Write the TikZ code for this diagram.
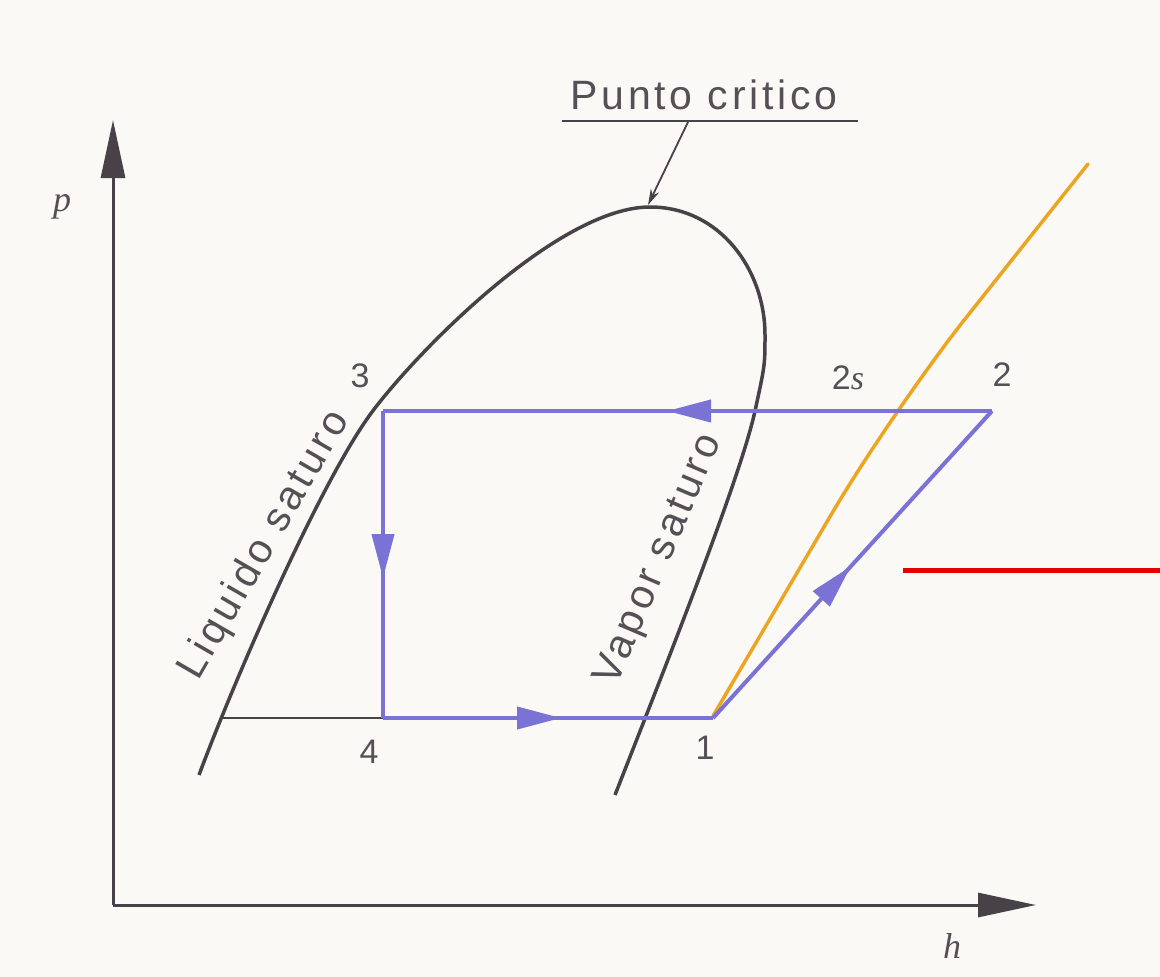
\documentclass[tikz,border=0pt]{standalone}
\usepackage{fontspec}
\setmainfont{Liberation Sans}
\newfontfamily\lblfont{Liberation Sans}[LetterSpace=9]
\newfontfamily\serifit{Liberation Serif}
\usetikzlibrary{arrows.meta,decorations.markings}
\definecolor{bgc}{RGB}{250,249,246}
\definecolor{ink}{RGB}{72,66,72}
\definecolor{txt}{RGB}{85,80,85}
\definecolor{cyc}{RGB}{122,114,212}
\definecolor{orng}{RGB}{236,165,35}
\definecolor{redl}{RGB}{232,0,0}
\tikzset{
  axis/.style={ink, line width=3pt, -{Triangle[length=58pt,width=24pt]}},
  dome/.style={ink, line width=3.5pt, line join=round},
  cycline/.style={cyc, line width=4pt},
  midarrow/.style={postaction={decorate, decoration={markings,
      mark=at position #1 with {\arrow{Triangle[length=44pt,width=22pt]}}}}},
  lbl/.style={txt, font=\lblfont\fontsize{41}{48}\selectfont, inner sep=0pt},
  num/.style={txt, font=\fontsize{34}{38}\selectfont, inner sep=0pt},
  axlbl/.style={txt, font=\serifit\itshape\fontsize{36}{40}\selectfont, inner sep=0pt}
}
\begin{document}
\begin{tikzpicture}[x=1pt,y=-1pt]
\fill[bgc] (0,0) rectangle (1160,977);
\useasboundingbox (0,0) rectangle (1160,977);
% axes
\coordinate (O) at (113,905);
\coordinate (ptop) at (113,120);
\coordinate (hend) at (1036,905);
\draw[axis] (O) -- (ptop);
\draw[axis] (O) -- (hend);
\node[axlbl] (plabel) at (62,207) {p};
\node[axlbl] (hlabel) at (952,946) {h};
% cycle points
\coordinate (c1) at (713,718);
\coordinate (c2) at (992,411);
\coordinate (c3) at (383,411);
\coordinate (c4) at (383,718);
\coordinate (lq) at (220,718);
% saturation dome
\coordinate (dL) at (199,775);
\coordinate (dA) at (372,412);
\coordinate (dC) at (650,207);
\coordinate (dR) at (765,335);
\coordinate (dB) at (755,411);
\coordinate (dE) at (615,795);
\draw[dome] (dL) .. controls (234,681) and (320,482) .. (dA)
  .. controls (420,348) and (560,207) .. (dC)
  .. controls (720,207) and (765,270) .. (dR)
  .. controls (765,365) .. (dB)
  .. controls (740,480) and (660,680) .. (dE);
% orange line
\coordinate (o1) at (713,716);
\coordinate (ob) at (892,411);
\coordinate (o2) at (1088,164);
\draw[orng, line width=3.5pt, line cap=round, rounded corners=120pt] (o1) -- (ob) -- (o2);
% gray horizontal
\draw[ink, line width=2pt] (lq) -- (c4);
% cycle
\draw[cycline, midarrow=325pt] (c2) -- (c3);
\draw[cycline, midarrow=167pt] (c3) -- (c4);
\draw[cycline, midarrow=178pt] (c4) -- (c1);
\draw[cycline, midarrow=205pt, line join=miter] (c1) -- (c2);
% point labels
\node[num] (n3) at (360,376) {3};
\node[num] (n2s) at (848,378) {2{\serifit\itshape s}};
\node[num] (n2) at (1002,375) {2};
\node[num] (n4) at (369,752) {4};
\node[num] (n1) at (705,748) {1};
% curve labels
\node[lbl, rotate=60] (liq) at (265,545) {Liquido saturo};
\node[lbl, rotate=67] (vap) at (660,560) {Vapor saturo};
% critical point
\node[lbl] (pc) at (704,95) {Punto critico};
\coordinate (ulL) at (562,121);
\coordinate (ulR) at (858,121);
\draw[ink, line width=2pt] (ulL) -- (ulR);
\coordinate (pcfrom) at (688,122);
\coordinate (pcto) at (648,205);
\draw[ink, line width=1.8pt, -{Stealth[length=16pt,width=9pt]}] (pcfrom) -- (pcto);
% red line
\coordinate (r1) at (903,570);
\coordinate (r2) at (1160,570);
\draw[redl, line width=5pt] (r1) -- (r2);
\end{tikzpicture}
\end{document}
